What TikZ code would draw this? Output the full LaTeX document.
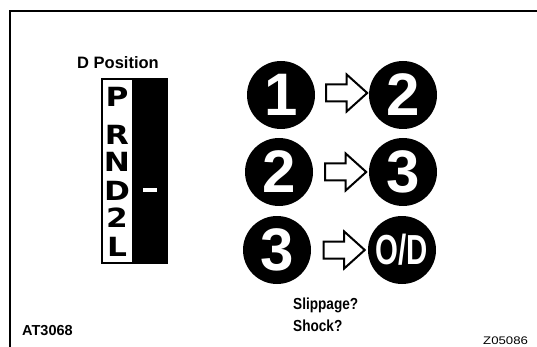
\documentclass[tikz,border=0pt]{standalone}
\usepackage{fontspec}
\usepackage{graphicx}
\setmainfont{Liberation Sans}
\newfontfamily\blockfont{DejaVu Sans}
\usetikzlibrary{shapes.arrows,calc}
\tikzset{
  gear/.style={circle,fill=black,minimum size=68pt,inner sep=0pt,text=white,
    font=\fontsize{60}{60}\selectfont\bfseries},
  blockarr/.style={single arrow,draw=black,fill=white,line width=2pt,
    inner xsep=0pt,inner ysep=7.5pt,single arrow head extend=10pt,
    minimum height=41pt,single arrow tip angle=84},
  sel/.style={inner sep=0pt,font=\blockfont\fontsize{24}{24}\selectfont\bfseries},
  lbl/.style={inner sep=0pt,anchor=base west}
}
\begin{document}
\begin{tikzpicture}[x=1pt,y=-1pt]
\useasboundingbox (0,0) rectangle (537,347);
\fill[white] (0,0) rectangle (537,347);
% frame
\draw[line width=2.5pt] (10,347) -- (10,11) -- (537,11);
% shift selector
\node[inner sep=0pt,anchor=base,font=\fontsize{16.5}{16.5}\selectfont\bfseries] (dpos) at (118,69) {D Position};
\draw[line width=1.5pt,fill=white] (102,79) rectangle (133,263);
\fill[black] (133,78.25) rectangle (168,263.75);
\node[sel] (p) at (117,97) {\scalebox{1.3}[1.1]{P}};
\node[sel] (r) at (117,135) {\scalebox{1.3}[1.1]{R}};
\node[sel] (n) at (117,162) {\scalebox{1.3}[1.1]{N}};
\node[sel] (d) at (117,191) {\scalebox{1.3}[1.1]{D}};
\node[sel] (two) at (117,218) {\scalebox{1.3}[1.1]{2}};
\node[sel] (l) at (117,247) {\scalebox{1.3}[1.1]{L}};
\fill[white] (143,188) rectangle (157,192);
% shift circles
\node[gear] (c1) at (281,95) {1};
\node[gear] (c2) at (403,95) {2};
\node[gear] (c2b) at (279,172) {2};
\node[gear] (c3) at (403,172) {3};
\node[gear] (c3b) at (277,250) {3};
\node[gear,font=\fontsize{42}{42}\selectfont\bfseries] (od) at (402,250) {\scalebox{0.7}[1]{O/D}};
\node[blockarr] (a1) at ($(c1)!0.5!(c2)+(0,-2)$) {};
\node[blockarr] (a2) at ($(c2b)!0.5!(c3)$) {};
\node[blockarr] (a3) at ($(c3b)!0.5!(od)$) {};
% labels
\node[lbl,font=\fontsize{16}{16}\selectfont\bfseries] (slip) at (293,309) {\scalebox{0.85}[1]{Slippage?}};
\node[lbl,font=\fontsize{16}{16}\selectfont\bfseries] (shock) at (293,331) {\scalebox{0.85}[1]{Shock?}};
\node[lbl,font=\fontsize{14.5}{14.5}\selectfont\bfseries] (at) at (22,335) {AT3068};
\node[lbl,font=\fontsize{11}{11}\selectfont] (z) at (483,344) {\scalebox{1.2}[1]{Z05086}};
\end{tikzpicture}
\end{document}
